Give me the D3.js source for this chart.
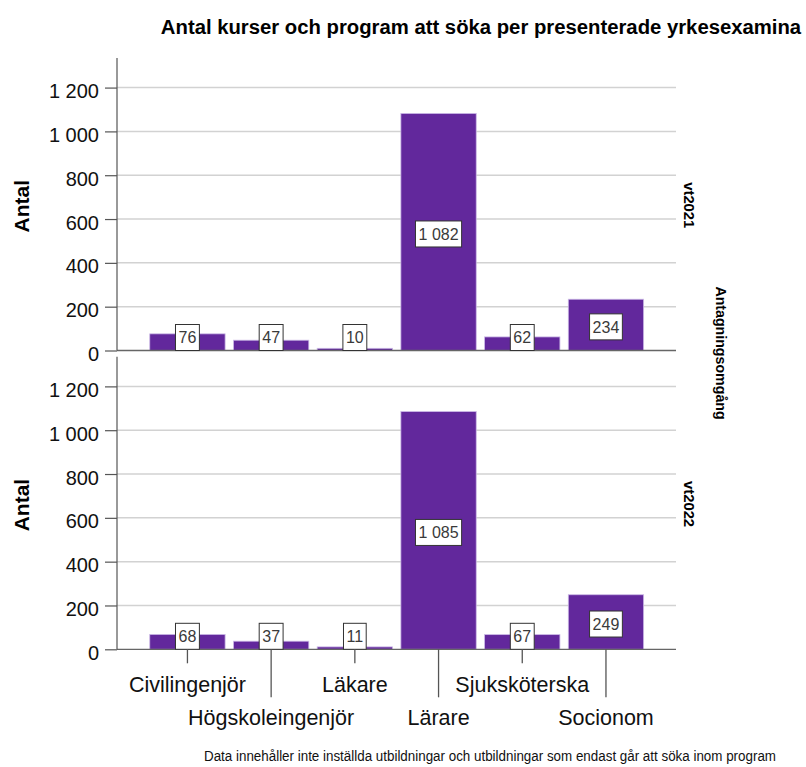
<!DOCTYPE html>
<html>
<head>
<meta charset="utf-8">
<script src="https://cdn.jsdelivr.net/npm/d3@7"></script>
<style>
  html, body { margin: 0; padding: 0; background: #fff; }
  svg { display: block; }
  text { font-family: "Liberation Sans", Arial, sans-serif; }
</style>
</head>
<body>
<script>
// ---- data ----
const categories = ["Civilingenjör", "Högskoleingenjör", "Läkare", "Lärare", "Sjuksköterska", "Socionom"];
const panels = ["vt2021", "vt2022"];
const values2021 = [76, 47, 10, 1082, 62, 234];
const values2022 = [68, 37, 11, 1085, 67, 249];
const yTicks = [0, 200, 400, 600, 800, 1000, 1200];
const yMax = 1335;
const title = "Antal kurser och program att söka per presenterade yrkesexamina";
const yTitle = "Antal";
const facetTitle = "Antagningsomgång";
const footnote = "Data innehåller inte inställda utbildningar och utbildningar som endast går att söka inom program";

const seriesByPanel = [values2021, values2022];

// ---- layout ----
const W = 806, H = 767;
const axisX = 117, plotRight = 676;
const panelTops = [58, 356.8];
const panelH = 292.5;
const barColor = "#62289c";

const fmt = d3.formatLocale({ decimal: ",", thousands: "\u00a0", grouping: [3], currency: ["", " kr"] }).format(",d");

const svg = d3.select("body").append("svg").attr("width", W).attr("height", H);

svg.append("text")
  .attr("x", 481).attr("y", 34)
  .attr("text-anchor", "middle")
  .attr("font-size", 20.3).attr("font-weight", "bold").attr("fill", "#000")
  .text(title);

const x = d3.scaleBand().domain(categories).range([141.4, 652]).padding(0.1);

panels.forEach((p, pi) => {
  const top = panelTops[pi];
  const y = d3.scaleLinear().domain([0, yMax]).range([top + panelH, top]);
  const g = svg.append("g");
  const vals = seriesByPanel[pi];

  // gridlines
  g.selectAll(".grid").data(yTicks.filter(t => t > 0)).join("line")
    .attr("x1", axisX).attr("x2", plotRight)
    .attr("y1", d => y(d)).attr("y2", d => y(d))
    .attr("stroke", "#d2d2d2").attr("stroke-width", 1.5);

  // bars
  g.selectAll(".bar").data(categories).join("rect")
    .attr("x", d => x(d))
    .attr("width", x.bandwidth())
    .attr("y", (d, i) => y(vals[i]))
    .attr("height", (d, i) => y(0) - y(vals[i]))
    .attr("fill", barColor)
    .attr("stroke", "#cbb9e6").attr("stroke-width", 0.8);

  // baseline
  g.append("line")
    .attr("x1", axisX).attr("x2", plotRight)
    .attr("y1", y(0)).attr("y2", y(0))
    .attr("stroke", "#666").attr("stroke-width", 1.3);

  // y axis
  const ax = g.append("g").attr("transform", `translate(${axisX},0)`)
    .call(d3.axisLeft(y).tickValues(yTicks).tickSize(12).tickPadding(6).tickFormat(fmt));
  ax.select(".domain").remove();
  ax.selectAll(".tick line").attr("stroke", "#555").attr("stroke-width", 1.2);
  ax.selectAll(".tick text")
    .attr("font-size", 20).attr("fill", "#111")
    .attr("font-family", "Liberation Sans, Arial, sans-serif")
    .attr("dy", "0.5em");
  g.append("line")
    .attr("x1", axisX).attr("x2", axisX)
    .attr("y1", top).attr("y2", y(0))
    .attr("stroke", "#555").attr("stroke-width", 1.2);

  // value labels
  const lab = g.selectAll(".lab").data(categories).join("g")
    .attr("transform", (d, i) => {
      const mid = (y(vals[i]) + y(0)) / 2 + 2;
      const cy = Math.min(mid, y(0) - 13);
      return `translate(${x(d) + x.bandwidth() / 2},${cy})`;
    });
  lab.each(function(d, i) {
    const s = d3.select(this);
    const t = s.append("text")
      .attr("text-anchor", "middle").attr("dy", "0.36em")
      .attr("font-size", 16).attr("fill", "#3a3a3a")
      .text(fmt(vals[i]));
    const bb = t.node().getBBox();
    s.insert("rect", "text")
      .attr("x", -bb.width / 2 - 3).attr("width", bb.width + 6)
      .attr("y", -13).attr("height", 26)
      .attr("fill", "#fff").attr("stroke", "#333").attr("stroke-width", 1);
  });

  // y title
  g.append("text")
    .attr("transform", `translate(29,${top + panelH / 2 + 2}) rotate(-90)`)
    .attr("text-anchor", "middle")
    .attr("font-size", 21).attr("font-weight", "bold").attr("fill", "#000")
    .text(yTitle);

  // facet label
  g.append("text")
    .attr("transform", `translate(684,${top + panelH / 2 + 1}) rotate(90)`)
    .attr("text-anchor", "middle")
    .attr("font-size", 14.8).attr("font-weight", "bold").attr("fill", "#000")
    .text(p);

  // x axis on the last panel
  if (pi === panels.length - 1) {
    const base = y(0);
    g.selectAll(".xt").data(categories).join("line")
      .attr("x1", d => x(d) + x.bandwidth() / 2).attr("x2", d => x(d) + x.bandwidth() / 2)
      .attr("y1", base).attr("y2", (d, i) => base + (i % 2 === 0 ? 14 : 48))
      .attr("stroke", "#555").attr("stroke-width", 1.3);
    g.selectAll(".xl").data(categories).join("text")
      .attr("x", d => x(d) + x.bandwidth() / 2)
      .attr("y", (d, i) => i % 2 === 0 ? 692 : 725)
      .attr("text-anchor", "middle")
      .attr("font-size", 21.5).attr("fill", "#111")
      .text(d => d);
  }
});

// outer facet title
svg.append("text")
  .attr("transform", `translate(716,353) rotate(90)`)
  .attr("text-anchor", "middle")
  .attr("font-size", 14.2).attr("font-weight", "bold").attr("fill", "#000")
  .text(facetTitle);

// footnote
svg.append("text")
  .attr("x", 490).attr("y", 761)
  .attr("text-anchor", "middle")
  .attr("font-size", 14).attr("fill", "#111")
  .attr("font-family", "Liberation Sans Narrow, Arial Narrow, sans-serif")
  .attr("textLength", 572).attr("lengthAdjust", "spacingAndGlyphs")
  .text(footnote);
</script>
</body>
</html>
